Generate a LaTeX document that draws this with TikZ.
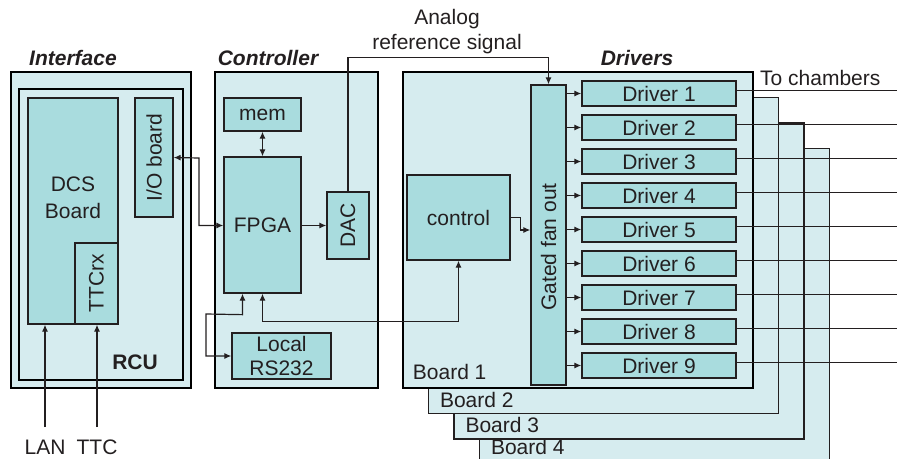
\documentclass[tikz,border=0pt]{standalone}
\usepackage{fontspec}
\setmainfont{Liberation Sans}
\usetikzlibrary{arrows.meta}
\definecolor{panel}{RGB}{214,236,239}
\definecolor{unit}{RGB}{169,220,222}
\definecolor{ink}{RGB}{35,31,32}
\tikzset{
  panelbox/.style={draw=black,line width=2.6pt,fill=panel},
  boardbox/.style={draw=ink,line width=1.4pt,fill=panel},
  unitbox/.style={draw=ink,line width=1.3pt,fill=unit,inner sep=0pt,text=ink},
  title/.style={font=\fontsize{21}{24}\selectfont\bfseries\itshape,text=ink},
  txt/.style={font=\fontsize{21}{24}\selectfont,text=ink,align=center,inner sep=0pt},
  wire/.style={line width=1.2pt,draw=ink}
}
\begin{document}
\begin{tikzpicture}[x=1pt,y=-1pt,>={Latex[length=7pt,width=6pt]},font=\fontsize{21}{24}\selectfont]
\useasboundingbox (0,0) rectangle (897,458);
\clip (0,0) rectangle (897,458);
% Interface
\node[panelbox,minimum width=180,minimum height=316] (iface) at (101,230) {};
\node[panelbox,minimum width=164,minimum height=291] (rcu) at (101,234.5) {};
\node[unitbox,minimum width=90,minimum height=226] (dcs) at (73,211) {};
\node[txt] (dcstext) at (73,198) {DCS\\[3pt]Board};
\node[unitbox,minimum width=81,minimum height=43,rotate=90] (ttcrx) at (96.5,283.5) {TTCrx};
\node[unitbox,minimum width=119,minimum height=38,rotate=90] (io) at (154,157.5) {I/O board};
\node[txt,font=\fontsize{21}{24}\selectfont\bfseries] (rcutext) at (135,362) {RCU};
\node[title] (ifacetitle) at (73,58) {Interface};
\coordinate (lanin) at (45,427);
\coordinate (ttcin) at (97,427);
\node[txt] (lan) at (45,447) {LAN};
\node[txt] (ttc) at (97,447) {TTC};
\draw[wire,->] (lanin) -- (lanin |- dcs.south);
\draw[wire,->] (ttcin) -- (ttcin |- dcs.south);
% Controller
\node[panelbox,minimum width=163,minimum height=316] (ctrl) at (296.5,230) {};
\node[title] (ctrltitle) at (268,58) {Controller};
\node[unitbox,minimum width=77,minimum height=33] (mem) at (262.5,114.5) {mem};
\node[unitbox,minimum width=77,minimum height=136] (fpga) at (262.5,225) {FPGA};
\node[unitbox,minimum width=67,minimum height=42,rotate=90] (dac) at (348,225.5) {DAC};
\node[unitbox,minimum width=99,minimum height=46,align=center] (rs) at (281.5,356) {Local\\RS232};
% Drivers
\foreach \k/\up in {4/11,3/7,2/7}{
  \node[boardbox,minimum width=350,minimum height=316] (board\k) at ({578+25.5*(\k-1)},{230+25.5*(\k-1)}) {};
  \node[txt,anchor=base west] (boardtext\k) at ([xshift=12pt,yshift=\up pt]board\k.south west) {Board \k};
}
\node[panelbox,minimum width=350,minimum height=316] (board1) at (578,230) {};
\node[txt,anchor=base west] (boardtext1) at ([xshift=11pt,yshift=10pt]board1.south west) {Board 1};
\node[title] (drvtitle) at (637,58) {Drivers};
\node[unitbox,minimum width=300,minimum height=35,rotate=90] (fan) at (548.5,235) {};
\node[txt,rotate=90] (fantext) at (548.5,247) {Gated fan out};
\node[unitbox,minimum width=103,minimum height=85] (control) at (458.5,217.5) {control};
\coordinate (chambers) at (897,0);
\foreach \i in {1,...,9}{
  \node[unitbox,minimum width=154,minimum height=25] (drv\i) at (659,{93.5+34*(\i-1)}) {Driver \i};
  \draw[wire,->] (fan.south |- drv\i.west) -- (drv\i.west);
  \draw[wire] ([yshift=3pt]drv\i.east) -- ([yshift=3pt]chambers |- drv\i.east);
}
\node[txt,anchor=west] (chtext) at (760,78) {To chambers};
% signals
\node[txt] (analog) at (447,32) {Analog\\[1pt]reference signal};
\draw[wire,->] (dac.east) -- ++(0,-134) -| (fan.east);
\draw[wire,->] (control.east) -- ++(10,0) |- ([yshift=5pt]fan.north);
\draw[wire,<->] (mem.south) -- (fpga.north);
\draw[wire,->] (fpga.east |- dac.south) -- (dac.north);
\draw[wire,<->] (io.south) -- (199,158) |- (fpga.west |- dac.north);
\draw[wire,<->] ([xshift=-20pt]fpga.south) -- ++(0,21) -- (206,314) |- (rs.west);
\draw[wire,<->] (fpga.south) -- ++(0,28) -| (control.south);
\end{tikzpicture}
\end{document}
